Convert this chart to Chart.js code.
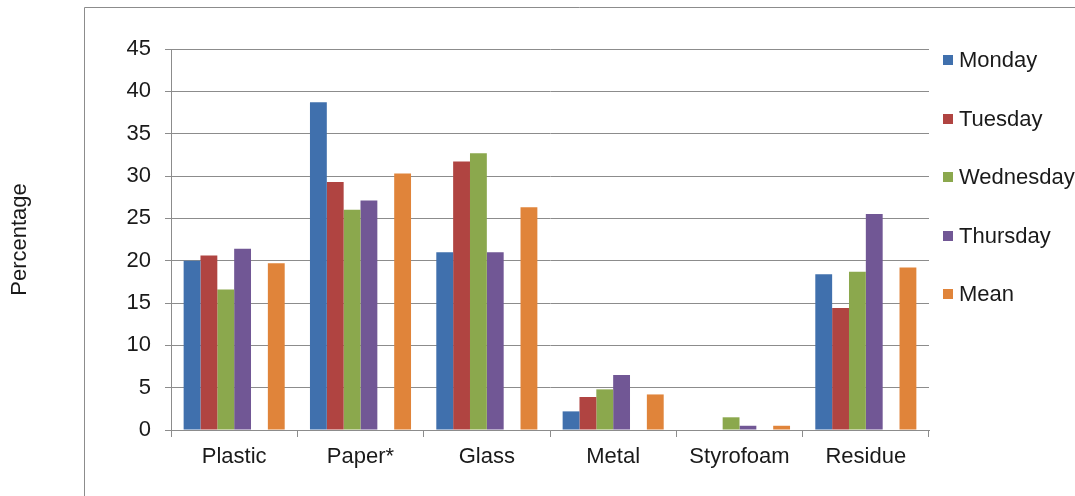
<!DOCTYPE html>
<html>
<head>
<meta charset="utf-8">
<script src="https://cdn.jsdelivr.net/npm/chart.js@4.4.1/dist/chart.umd.min.js"></script>
<style>
  html, body { margin: 0; padding: 0; background: #fff; overflow: hidden; }
  #wrap { position: relative; width: 1075px; height: 496px; }
  #legend { position: absolute; left: 0; top: 0; }
  .item { position: absolute; white-space: nowrap; font-family: "Liberation Sans", Arial, sans-serif;
          font-size: 22px; color: #1a1a1a; line-height: 26px; }
  .box { position: absolute; width: 10px; height: 10px; }
</style>
</head>
<body>
<div id="wrap">
  <canvas id="grafico"></canvas>
  <div id="legend"></div>
</div>
<script>
const categorias = ['Plastic', 'Paper*', 'Glass', 'Metal', 'Styrofoam', 'Residue'];
const lunes     = [20.0, 38.7, 21.0, 2.2, 0, 18.4];
const martes    = [20.6, 29.3, 31.7, 3.9, 0, 14.4];
const miercoles = [16.6, 26.0, 32.7, 4.8, 1.5, 18.7];
const jueves    = [21.4, 27.1, 21.0, 6.5, 0.5, 25.5];
const vacio     = [null, null, null, null, null, null]; // serie vacía (hueco antes de Mean)
const media     = [19.7, 30.3, 26.3, 4.2, 0.5, 19.2];
const ticksY    = [0, 5, 10, 15, 20, 25, 30, 35, 40, 45];

const fuente = '"Liberation Sans", Arial, sans-serif';

// marco gris exterior
const marco = {
    id: 'marco',
    beforeDraw(chart) {
        const c = chart.ctx;
        c.save();
        c.strokeStyle = '#8c8c8c';
        c.lineWidth = 1;
        c.beginPath();
        c.moveTo(84.5, 496);
        c.lineTo(84.5, 7.5);
        c.lineTo(1075, 7.5);
        c.stroke();
        c.restore();
    }
};

const ctx = document.getElementById('grafico').getContext('2d');
const grafico = new Chart(ctx, {
    type: 'bar',
    data: {
        labels: categorias,
        datasets: [
            { label: 'Monday', data: lunes, backgroundColor: '#4070ad' },
            { label: 'Tuesday', data: martes, backgroundColor: '#b04441' },
            { label: 'Wednesday', data: miercoles, backgroundColor: '#8ba84d' },
            { label: 'Thursday', data: jueves, backgroundColor: '#715795' },
            { label: '', data: vacio, backgroundColor: '#4bacc6' },
            { label: 'Mean', data: media, backgroundColor: '#e0843a' }
        ]
    },
    options: {
        responsive: true,
        maintainAspectRatio: false,
        animation: false,
        layout: { padding: { top: 49, right: 146, bottom: 0, left: 0 } },
        datasets: { bar: { categoryPercentage: 0.8, barPercentage: 1.0 } },
        scales: {
            x: {
                grid: { offset: true, drawOnChartArea: false, drawTicks: true, tickLength: 7, color: '#8c8c8c' },
                border: { color: '#8c8c8c' },
                ticks: { color: '#1a1a1a', font: { family: fuente, size: 22 }, padding: 7, maxRotation: 0 },
                afterFit: s => { s.height = 66; }
            },
            y: {
                min: 0,
                max: 45,
                afterBuildTicks: s => { s.ticks = ticksY.map(v => ({ value: v })); },
                grid: { color: '#8c8c8c', tickLength: 6 },
                border: { color: '#8c8c8c' },
                ticks: { color: '#1a1a1a', font: { family: fuente, size: 22 }, padding: 14 },
                title: {
                    display: true,
                    text: 'Percentage',
                    color: '#1a1a1a',
                    font: { family: fuente, size: 22 },
                    padding: { top: 7, bottom: 0 }
                },
                afterFit: s => { s.width = 171; }
            }
        },
        plugins: {
            legend: { display: false },
            tooltip: { enabled: false }
        }
    },
    plugins: [marco]
});

// leyenda en HTML a la derecha
const leyenda = document.getElementById('legend');
const centros = [60, 119, 177, 236, 294];
grafico.data.datasets.filter(d => d.label).forEach((d, i) => {
    const caja = document.createElement('div');
    caja.className = 'box';
    caja.style.left = '943px';
    caja.style.top = (centros[i] - 5) + 'px';
    caja.style.background = d.backgroundColor;
    const txt = document.createElement('div');
    txt.className = 'item';
    txt.style.left = '959px';
    txt.style.top = (centros[i] - 13) + 'px';
    txt.textContent = d.label;
    leyenda.appendChild(caja);
    leyenda.appendChild(txt);
});
</script>
</body>
</html>
